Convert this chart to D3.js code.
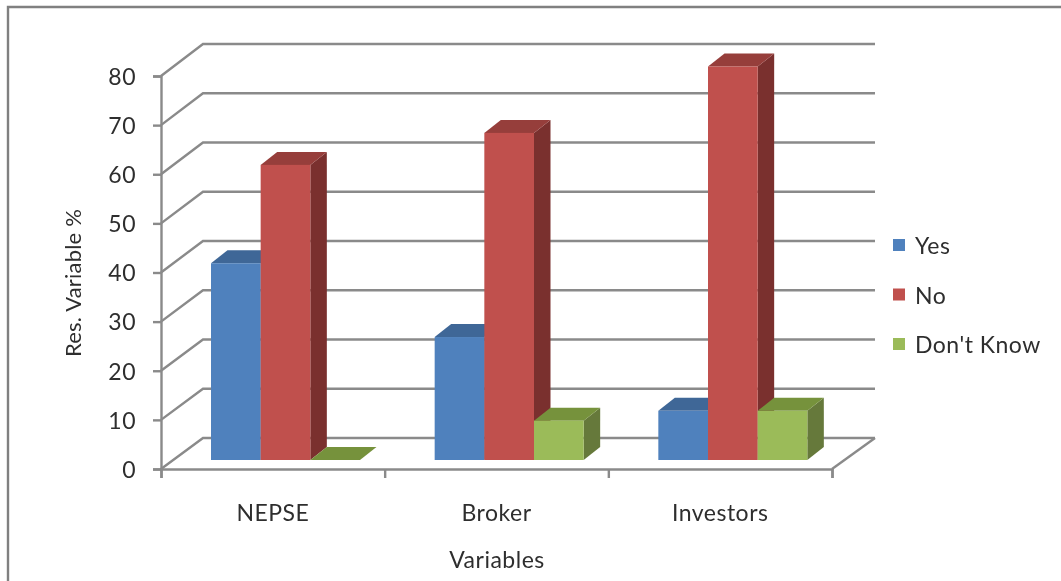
<!DOCTYPE html>
<html>
<head>
<meta charset="utf-8">
<script src="https://cdn.jsdelivr.net/npm/d3@7"></script>
<style>
html,body{margin:0;padding:0;background:#fff;overflow:hidden}
svg{display:block;filter:blur(0.5px)}
text{font-family:Lato,"Open Sans",sans-serif;fill:#2e2e2e;letter-spacing:0.5px}
</style>
</head>
<body>
<div id="chart"></div>
<script>
const categories = ["NEPSE", "Broker", "Investors"];
const seriesNames = ["Yes", "No", "Don't Know"];
const yes = [40, 25, 10];
const no = [60, 66.5, 80];
const dontKnow = [0, 8, 10];
const yTicks = [0, 10, 20, 30, 40, 50, 60, 70, 80];
const colors = {
  "Yes": ["#4f81bd", "#3f6797", "#385d8a"],
  "No": ["#c0504d", "#963e3b", "#7a302e"],
  "Don't Know": ["#9bbb59", "#76923c", "#66793b"]
};
const seriesValues = [yes, no, dontKnow];

const W = 1061, H = 581;
const gridColor = "#8a8a8a";
const fontSize = 23;
const svg = d3.select("#chart").append("svg").attr("width", W).attr("height", H);

// frame
svg.append("path").attr("d", d3.line()([[8, H], [8, 7], [W, 7]]))
  .attr("fill", "none").attr("stroke", "#808080").attr("stroke-width", 2.4);

// scales
const x = d3.scaleBand().domain(categories).range([161, 832]);
const yFront = d3.scaleLinear().domain([0, 80]).range([469, 76]);
const yBack = d3.scaleLinear().domain([0, 80]).range([438, 44]);
const yBar = d3.scaleLinear().domain([0, 80]).range([460, 66.5]);
const depthX = 42, barDepthX = 16.5, barDepthY = 13;
const inner = d3.scaleBand().domain(seriesNames).range([50, 199]);

// gridlines on walls
const grid = svg.append("g").attr("fill", "none").attr("stroke", gridColor).attr("stroke-width", 2.4);
grid.selectAll("path").data(yTicks).join("path")
  .attr("d", d => d3.line()([[161, yFront(d)], [161 + depthX, yBack(d)], [875, yBack(d)]]));
// floor right edge
grid.append("path").attr("d", d3.line()([[875, yBack(0)], [832, yFront(0)]]));

// axes
const yAxis = d3.axisLeft(yFront).tickValues(yTicks).tickSize(8).tickPadding(17);
const gy = svg.append("g").attr("transform", "translate(161,0)").call(yAxis);
gy.selectAll("text").attr("font-size", fontSize).attr("dy", "0.36em");

const edges = d3.scalePoint().domain(d3.range(categories.length + 1))
  .range(x.range());
const gxTicks = svg.append("g").attr("transform", `translate(0,${yFront(0)})`)
  .call(d3.axisBottom(edges).tickSize(9).tickFormat(""));
const gxLabels = svg.append("g").attr("transform", `translate(0,${yFront(0)})`)
  .call(d3.axisBottom(x).tickSize(0).tickPadding(36));
gxLabels.select(".domain").remove();
gxLabels.selectAll("text").attr("font-size", fontSize);
[gy, gxTicks].forEach(g => {
  g.selectAll("line,path").attr("stroke", gridColor).attr("stroke-width", 2.4);
});

// bars: back to front, left to right
const bars = svg.append("g");
categories.forEach((cat, ci) => {
  seriesNames.forEach((name, si) => {
    const v = seriesValues[si][ci];
    const x0 = x(cat) + inner(name), x1 = x0 + inner.bandwidth();
    const yT = yBar(v), yB = yBar(0);
    const [front, top, side] = colors[name];
    const g = bars.append("g");
    g.append("path").attr("fill", side).attr("d", d3.line()([
      [x1, yB], [x1 + barDepthX, yB - barDepthY], [x1 + barDepthX, yT - barDepthY], [x1, yT]
    ]) + "Z");
    g.append("path").attr("fill", top).attr("d", d3.line()([
      [x0, yT], [x0 + barDepthX, yT - barDepthY], [x1 + barDepthX, yT - barDepthY], [x1, yT]
    ]) + "Z");
    if (v > 0) g.append("rect").attr("x", x0).attr("y", yT)
      .attr("width", x1 - x0).attr("height", yB - yT).attr("fill", front);
  });
});

// axis titles
svg.append("text").attr("x", 497).attr("y", 568).attr("text-anchor", "middle")
  .attr("font-size", fontSize).text("Variables");
svg.append("text").attr("transform", "translate(81,283) rotate(-90)")
  .attr("text-anchor", "middle").attr("font-size", 22).style("letter-spacing", "0.2px").text("Res. Variable %");

// legend
const legendY = d3.scalePoint().domain(seriesNames).range([246, 345]);
const lg = svg.append("g").selectAll("g").data(seriesNames).join("g")
  .attr("transform", d => `translate(893,${legendY(d)})`);
lg.append("rect").attr("x", 0).attr("y", -7).attr("width", 12).attr("height", 12)
  .attr("fill", d => colors[d][0]);
lg.append("text").attr("x", 22).attr("dy", "0.36em").attr("font-size", fontSize).text(d => d);
</script>
</body>
</html>
